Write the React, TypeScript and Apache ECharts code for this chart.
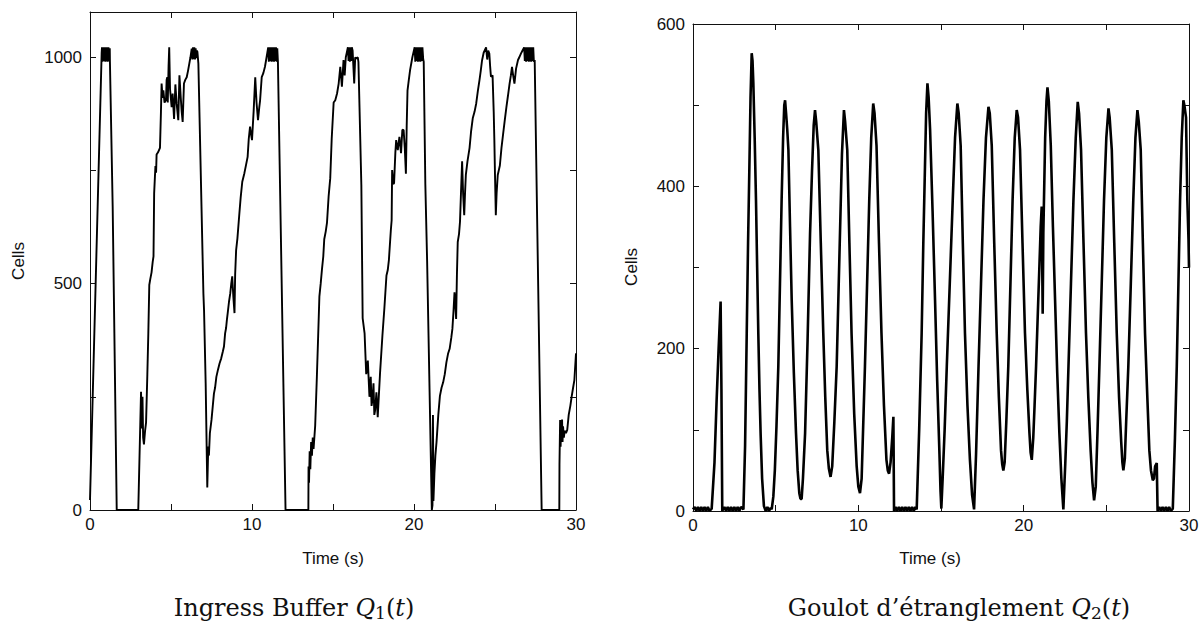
import React, { useEffect, useRef } from "react";
import * as echarts from "echarts";

// Ingress buffer Q1(t): [time (s), cells]
const q1Points: number[][] = [
  [0, 22], [0.72, 1010],
  [0.74, 1022], [0.78, 990], [0.82, 1022], [0.86, 992], [0.9, 1022], [0.94, 990], [0.98, 1022], [1.02, 991], [1.06, 1022], [1.1, 990], [1.14, 1022], [1.18, 992], [1.22, 1020], [1.23, 990],
  [1.4, 670], [1.65, 0], [2.98, 0],
  [3.15, 261], [3.2, 180], [3.24, 250], [3.28, 160], [3.33, 145], [3.4, 175], [3.46, 193], [3.54, 300], [3.6, 390], [3.66, 497], [3.72, 510], [3.8, 525], [3.87, 548], [3.92, 560], [3.96, 700], [4.01, 738], [4.04, 760], [4.08, 745], [4.11, 785], [4.2, 790], [4.32, 800], [4.38, 880], [4.42, 942], [4.48, 910], [4.53, 927], [4.6, 900], [4.69, 905], [4.73, 950], [4.77, 956], [4.8, 900], [4.85, 980], [4.89, 1022], [4.94, 930], [5.04, 890], [5.1, 920], [5.19, 864], [5.27, 940], [5.35, 897], [5.45, 861], [5.52, 960], [5.6, 912], [5.66, 880], [5.72, 857], [5.8, 942], [5.88, 950], [5.97, 956], [6.05, 970], [6.13, 986], [6.2, 1000], [6.28, 1019],
  [6.32, 995], [6.36, 1022], [6.4, 996], [6.44, 1022], [6.48, 995], [6.52, 1020], [6.56, 998], [6.6, 1015], [6.63, 1012], [6.69, 986],
  [7.0, 478], [7.04, 441], [7.14, 280], [7.24, 50],
  [7.3, 140], [7.34, 120], [7.4, 170], [7.5, 199], [7.58, 230], [7.65, 257], [7.72, 270], [7.8, 294], [7.9, 310], [8.0, 324], [8.1, 335], [8.2, 350], [8.27, 361], [8.34, 390], [8.4, 402], [8.45, 420], [8.5, 435], [8.58, 460], [8.66, 479], [8.72, 500], [8.78, 516], [8.85, 470], [8.92, 435], [8.96, 520], [9.02, 574], [9.1, 600], [9.22, 655], [9.3, 690], [9.4, 725], [9.53, 744], [9.62, 760], [9.73, 780], [9.8, 820], [9.88, 847], [9.94, 830], [10.0, 817], [10.1, 880], [10.2, 956], [10.28, 900], [10.37, 861], [10.45, 890], [10.5, 905], [10.6, 956], [10.7, 965], [10.8, 979], [10.9, 1000], [11.0, 1022],
  [11.04, 990], [11.08, 1022], [11.12, 992], [11.16, 1022], [11.2, 990], [11.24, 1022], [11.28, 991], [11.32, 1022], [11.36, 990], [11.4, 1022], [11.44, 992], [11.48, 1022], [11.52, 990], [11.56, 1020], [11.6, 990],
  [12.07, 0], [13.48, 0],
  [13.49, 96], [13.52, 60], [13.56, 130], [13.6, 90], [13.65, 150], [13.7, 120], [13.75, 160], [13.8, 135], [13.9, 186], [14.0, 290], [14.08, 380], [14.16, 472], [14.24, 500], [14.32, 532], [14.4, 560], [14.46, 598], [14.55, 615], [14.63, 635], [14.73, 693], [14.83, 733], [14.92, 820], [15.04, 900], [15.14, 905], [15.25, 920], [15.35, 942], [15.45, 979], [15.55, 935], [15.65, 994], [15.72, 960], [15.79, 1000], [15.85, 1010], [15.92, 1022],
  [15.96, 992], [16.0, 1022], [16.04, 990], [16.08, 1022], [16.12, 992], [16.16, 1022], [16.21, 1015], [16.31, 942], [16.37, 1000], [16.43, 997], [16.53, 1000],
  [16.57, 990], [16.75, 718], [16.83, 424], [16.95, 390], [17.05, 300], [17.15, 330], [17.25, 250], [17.33, 294], [17.38, 230], [17.43, 242], [17.5, 280], [17.55, 210], [17.6, 220], [17.68, 260], [17.76, 205],
  [17.9, 300], [18.05, 385], [18.17, 445], [18.3, 518], [18.38, 530], [18.45, 552], [18.57, 618], [18.62, 640], [18.65, 751], [18.72, 720], [18.77, 722], [18.85, 790], [18.9, 817], [19.0, 795], [19.1, 824], [19.2, 788], [19.28, 840], [19.36, 839], [19.43, 800], [19.5, 743], [19.55, 850], [19.6, 927], [19.68, 950], [19.76, 972], [19.9, 1000], [20.04, 1022],
  [20.08, 990], [20.12, 1022], [20.16, 992], [20.2, 1022], [20.24, 990], [20.28, 1022], [20.32, 991], [20.36, 1022], [20.4, 990], [20.44, 1022], [20.48, 992], [20.52, 1022], [20.57, 995], [20.6, 990],
  [20.7, 719], [20.81, 550], [21.1, 0], [21.14, 10], [21.17, 210], [21.2, 20], [21.26, 80], [21.32, 120], [21.39, 150], [21.5, 210], [21.6, 252], [21.7, 270], [21.8, 282], [21.9, 300], [22.0, 326], [22.1, 345], [22.2, 356], [22.3, 380], [22.37, 400], [22.44, 440], [22.5, 481], [22.56, 450], [22.6, 422], [22.65, 520], [22.7, 592], [22.78, 610], [22.84, 637], [22.9, 700], [22.97, 770], [23.03, 700], [23.1, 651], [23.15, 700], [23.2, 740], [23.3, 770], [23.43, 800], [23.52, 835], [23.63, 866], [23.74, 880], [23.84, 898], [23.94, 925], [24.04, 949], [24.12, 970], [24.2, 993], [24.3, 1010], [24.45, 1022], [24.52, 995], [24.58, 1015], [24.65, 1008], [24.7, 980], [24.75, 957], [24.85, 960], [24.92, 880], [24.96, 817], [25.0, 740], [25.05, 651], [25.1, 700], [25.17, 740], [25.3, 761], [25.4, 800], [25.5, 830], [25.6, 860], [25.7, 889], [25.8, 915], [25.9, 942], [25.98, 960], [26.05, 979], [26.12, 960], [26.2, 942], [26.3, 975], [26.42, 994], [26.5, 1000], [26.6, 1008], [26.7, 1015], [26.8, 1022],
  [26.84, 992], [26.88, 1022], [26.92, 990], [26.96, 1022], [27.0, 992], [27.04, 1022], [27.08, 990], [27.12, 1022], [27.16, 991], [27.2, 1022], [27.24, 990], [27.28, 1022], [27.32, 992], [27.36, 1022], [27.4, 990], [27.45, 994],
  [27.88, 0], [28.97, 0],
  [28.98, 100], [29.02, 199], [29.05, 140], [29.08, 190], [29.11, 150], [29.14, 200], [29.17, 150], [29.2, 185], [29.25, 160], [29.3, 175], [29.38, 170], [29.46, 177], [29.55, 210], [29.65, 230], [29.73, 250], [29.82, 270], [29.9, 287], [30, 346],
];

// Bottleneck Q2(t): [time (s), cells]
const q2Points: number[][] = [
  [0, 2], [0.1, 5], [0.2, 0], [0.3, 5], [0.4, 0], [0.5, 5], [0.6, 0], [0.7, 5], [0.8, 0], [0.9, 5], [1.0, 0], [1.13, 3],
  [1.3, 60], [1.43, 137], [1.55, 200], [1.67, 258], [1.72, 150], [1.77, 0],
  [1.9, 5], [2.0, 0], [2.1, 5], [2.2, 0], [2.3, 5], [2.4, 0], [2.5, 5], [2.6, 0], [2.7, 5], [2.8, 0], [2.9, 5], [3.05, 2],
  [3.15, 80], [3.25, 219], [3.33, 330], [3.41, 424], [3.48, 510], [3.55, 564], [3.6, 555], [3.65, 527], [3.73, 460], [3.81, 383], [3.88, 300], [3.95, 219], [4.02, 150], [4.09, 95], [4.18, 40], [4.29, 6], [4.4, 0], [4.5, 5], [4.6, 0], [4.7, 4], [4.76, 2],
  [4.86, 18], [4.95, 50], [5.05, 105], [5.16, 178], [5.26, 280], [5.36, 383], [5.45, 460], [5.52, 500], [5.57, 506], [5.63, 490], [5.7, 470], [5.77, 445], [5.87, 350], [5.97, 260], [6.1, 170], [6.23, 96], [6.33, 50], [6.43, 22], [6.5, 15], [6.57, 15], [6.65, 40],
  [6.78, 96], [6.93, 210], [7.08, 342], [7.2, 420], [7.3, 475], [7.38, 494], [7.45, 480], [7.58, 445], [7.73, 330], [7.88, 219], [8.0, 140], [8.12, 75], [8.22, 52], [8.32, 42], [8.42, 55],
  [8.55, 110], [8.69, 178], [8.79, 260], [8.89, 342], [9.01, 440], [9.13, 494], [9.2, 480], [9.33, 445], [9.46, 330], [9.59, 219], [9.75, 120], [9.9, 55], [10.0, 30], [10.1, 22], [10.2, 40],
  [10.4, 178], [10.53, 280], [10.66, 383], [10.78, 460], [10.9, 502], [10.98, 490], [11.1, 450], [11.25, 330], [11.4, 219], [11.55, 130], [11.7, 63], [11.78, 50], [11.86, 46], [11.95, 60], [12.05, 90], [12.12, 116], [12.16, 0],
  [12.25, 5], [12.35, 0], [12.45, 5], [12.55, 0], [12.65, 5], [12.75, 0], [12.85, 5], [12.95, 0], [13.05, 5], [13.15, 0], [13.25, 5], [13.35, 0], [13.45, 5], [13.53, 2],
  [13.68, 100], [13.83, 219], [13.93, 330], [14.03, 424], [14.1, 490], [14.18, 527], [14.25, 510], [14.34, 470], [14.49, 370], [14.64, 260], [14.77, 160], [14.9, 75], [14.97, 25], [15.02, 3],
  [15.1, 40], [15.22, 100], [15.35, 178], [15.53, 280], [15.71, 383], [15.85, 460], [15.99, 502], [16.07, 490], [16.19, 450], [16.32, 330], [16.45, 219], [16.6, 130], [16.75, 63], [16.88, 20], [17.0, 2],
  [17.12, 70], [17.27, 178], [17.42, 280], [17.57, 383], [17.72, 460], [17.87, 498], [17.95, 490], [18.07, 450], [18.22, 330], [18.37, 219], [18.5, 140], [18.63, 75], [18.7, 58], [18.77, 50], [18.85, 60],
  [18.95, 110], [19.07, 178], [19.2, 280], [19.33, 383], [19.46, 460], [19.58, 494], [19.66, 485], [19.78, 445], [19.93, 330], [20.08, 219], [20.22, 150], [20.35, 96], [20.42, 72], [20.49, 63], [20.58, 90],
  [20.66, 130], [20.75, 178], [20.85, 240], [20.95, 301], [21.03, 350], [21.09, 375], [21.15, 243], [21.19, 342], [21.3, 460], [21.38, 505], [21.44, 522], [21.52, 505], [21.64, 450], [21.77, 350], [21.9, 260], [22.03, 170], [22.16, 96], [22.28, 40], [22.4, 2],
  [22.52, 60], [22.61, 110], [22.71, 178], [22.86, 280], [23.01, 383], [23.15, 460], [23.27, 504], [23.35, 490], [23.47, 445], [23.62, 330], [23.77, 219], [23.91, 140], [24.05, 75], [24.16, 35], [24.26, 13], [24.36, 30],
  [24.47, 100], [24.58, 178], [24.72, 280], [24.86, 383], [25.0, 460], [25.13, 496], [25.2, 485], [25.33, 445], [25.48, 330], [25.63, 219], [25.77, 140], [25.9, 85], [25.97, 60], [26.03, 50], [26.12, 65],
  [26.2, 110], [26.33, 178], [26.48, 280], [26.63, 383], [26.76, 460], [26.88, 494], [26.96, 480], [27.08, 445], [27.21, 330], [27.34, 219], [27.48, 140], [27.6, 75], [27.7, 50], [27.81, 38], [27.88, 40], [27.95, 55], [28.05, 59], [28.1, 0],
  [28.2, 5], [28.3, 0], [28.4, 5], [28.5, 0], [28.6, 5], [28.7, 0], [28.8, 5], [28.9, 0], [29.02, 3],
  [29.15, 90], [29.26, 178], [29.36, 280], [29.46, 383], [29.56, 460], [29.66, 506], [29.72, 500], [29.82, 485], [29.9, 383], [29.97, 334], [30, 300],
];

const timeRange = [0, 30];
const timeLabelled = [0, 10, 20, 30];
const q1Range = [0, 1100];
const q1Labelled = [0, 500, 1000];
const q2Range = [0, 600];
const q2Labelled = [0, 200, 400, 600];

const AXIS_FONT = "Liberation Sans";
const INK = "#111";

function xAxes(grid: number, withLabels: boolean, pos: "bottom" | "top") {
  return {
    gridIndex: grid,
    type: "value",
    position: pos,
    min: timeRange[0],
    max: timeRange[1],
    interval: 5,
    axisLine: { show: true, onZero: false, lineStyle: { color: INK, width: 1 } },
    axisTick: { show: true, inside: true, length: 6, lineStyle: { color: INK } },
    axisLabel: {
      show: withLabels,
      fontSize: 17,
      fontFamily: AXIS_FONT,
      color: INK,
      margin: 6,
      formatter: (v: number) => (timeLabelled.includes(v) ? String(v) : ""),
    },
    splitLine: { show: false },
  };
}

function yAxes(grid: number, withLabels: boolean, pos: "left" | "right", range: number[], step: number, labelled: number[]) {
  return {
    gridIndex: grid,
    type: "value",
    position: pos,
    min: range[0],
    max: range[1],
    interval: step,
    axisLine: { show: true, onZero: false, lineStyle: { color: INK, width: 1 } },
    axisTick: { show: true, inside: true, length: 6, lineStyle: { color: INK } },
    axisLabel: {
      show: withLabels,
      fontSize: 17,
      fontFamily: AXIS_FONT,
      color: INK,
      margin: 8,
      formatter: (v: number) => (labelled.includes(v) ? String(v) : ""),
    },
    splitLine: { show: false },
  };
}

function caption(x: number, y: number, main: string, sub: string) {
  return {
    type: "text",
    x,
    y,
    style: {
      text: `{n|${main} }{i|Q}{s|${sub}}{n|(}{i|t}{n|)}`,
      align: "center",
      verticalAlign: "middle",
      fill: INK,
      rich: {
        n: { fontFamily: "DejaVu Serif", fontSize: 24, fill: INK },
        i: { fontFamily: "DejaVu Serif", fontStyle: "italic", fontSize: 24, fill: INK },
        s: { fontFamily: "DejaVu Serif", fontSize: 17, fill: INK, verticalAlign: "bottom", padding: [10, 0, 0, 0] },
      },
    },
  };
}

export default function App() {
  const ref = useRef<HTMLDivElement>(null);
  useEffect(() => {
    document.body.style.margin = "0";
    if (!ref.current) return;
    const chart = echarts.init(ref.current, undefined, { renderer: "svg" });
    chart.setOption({
      animation: false,
      backgroundColor: "#fff",
      grid: [
        { left: 90, top: 12, width: 486, height: 498, show: false },
        { left: 693, top: 24, width: 496, height: 487, show: false },
      ],
      xAxis: [xAxes(0, true, "bottom"), xAxes(0, false, "top"), xAxes(1, true, "bottom"), xAxes(1, false, "top")],
      yAxis: [
        yAxes(0, true, "left", q1Range, 250, q1Labelled),
        yAxes(0, false, "right", q1Range, 250, q1Labelled),
        yAxes(1, true, "left", q2Range, 100, q2Labelled),
        yAxes(1, false, "right", q2Range, 100, q2Labelled),
      ],
      series: [
        {
          type: "line",
          name: "Q1",
          xAxisIndex: 0,
          yAxisIndex: 0,
          data: q1Points,
          showSymbol: false,
          clip: true,
          lineStyle: { color: "#000", width: 1.9 },
        },
        {
          type: "line",
          name: "Q2",
          xAxisIndex: 2,
          yAxisIndex: 2,
          data: q2Points,
          showSymbol: false,
          clip: true,
          lineStyle: { color: "#000", width: 2.6 },
        },
      ],
      graphic: [
        { type: "text", x: 18, y: 261, rotation: Math.PI / 2, style: { text: "Cells", font: `17px "${AXIS_FONT}"`, fill: INK, align: "center", verticalAlign: "middle" } },
        { type: "text", x: 631, y: 267, rotation: Math.PI / 2, style: { text: "Cells", font: `17px "${AXIS_FONT}"`, fill: INK, align: "center", verticalAlign: "middle" } },
        { type: "text", x: 333, y: 558, style: { text: "Time (s)", font: `17px "${AXIS_FONT}"`, fill: INK, align: "center", verticalAlign: "middle" } },
        { type: "text", x: 930, y: 558, style: { text: "Time (s)", font: `17px "${AXIS_FONT}"`, fill: INK, align: "center", verticalAlign: "middle" } },
        caption(294, 608, "Ingress Buffer", "1"),
        caption(959, 608, "Goulot d’étranglement", "2"),
      ],
    });
    return () => chart.dispose();
  }, []);
  return <div ref={ref} style={{ width: 1202, height: 625 }} />;
}
